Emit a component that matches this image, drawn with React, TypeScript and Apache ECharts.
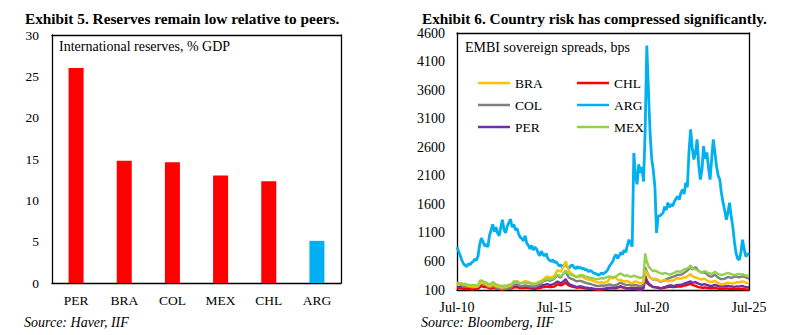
import { useEffect, useRef } from "react";
import * as echarts from "echarts";

// ---------- Exhibit 5 data ----------
const reserveCountries = ["PER", "BRA", "COL", "MEX", "CHL", "ARG"];
const reserveValues = [26.0, 14.8, 14.6, 13.0, 12.3, 5.1];

// ---------- Exhibit 6 data (monthly, Jul-2010 .. Jul-2025) ----------
const spreadYLabels = ["100", "600", "1100", "1600", "2100", "2600", "3100", "3600", "4100", "4600"];
const monthNames = ["Jan", "Feb", "Mar", "Apr", "May", "Jun", "Jul", "Aug", "Sep", "Oct", "Nov", "Dec"];

const ARG = [
  850, 780, 700, 620, 560, 530,
  510, 560, 540, 580, 600, 640, 620, 700, 900, 1010, 950, 870,
  900, 850, 1050, 1150, 1250, 1120, 1200, 1100, 1050, 1200, 1330, 1150,
  1100, 1220, 1280, 1340, 1200, 1250, 1150, 1180, 1080, 1020, 1000, 960,
  1050, 920, 880, 820, 880, 800, 850, 820, 750, 700, 780, 720,
  700, 740, 650, 620, 600, 630, 580, 600, 560, 520, 540, 500,
  530, 560, 500, 480, 520, 540, 500, 470, 510, 480, 500, 470,
  480, 450, 460, 420, 440, 430, 400, 390, 380, 360, 370, 400,
  380, 400, 420, 460, 520, 560, 600, 680, 720, 650, 700, 760,
  720, 800, 760, 880, 980, 920, 860, 2500, 2100, 1950, 2300, 2150,
  2250, 2000, 2900, 4380, 3600, 2860, 2400, 2200, 1900, 1100, 1390, 1400,
  1420, 1450, 1560, 1500, 1630, 1550, 1600, 1570, 1650, 1700, 1740, 1680,
  1800, 1860, 1780, 1980, 1900, 2510, 2913, 2600, 2385, 2500, 2737, 2300,
  2034, 2200, 2620, 2400, 2510, 2250, 2034, 2400, 2737, 2500, 2268, 2100,
  2034, 1800, 1630, 1500, 1330, 1450, 1630, 1400, 1213, 950, 745, 650,
  627, 750, 980, 820, 686, 720, 745,
];

const BRA = [
  200, 190, 210, 200, 190, 190,
  180, 175, 170, 165, 160, 165, 160, 170, 210, 230, 220, 215,
  200, 180, 170, 175, 200, 190, 170, 160, 150, 145, 140, 145,
  150, 160, 170, 180, 200, 250, 240, 260, 230, 220, 230, 240,
  260, 250, 240, 230, 220, 210, 210, 220, 240, 250, 260, 280,
  300, 330, 340, 310, 320, 330, 350, 400, 450, 430, 420, 480,
  520, 600, 520, 430, 400, 380, 360, 330, 320, 330, 330, 340,
  320, 300, 290, 280, 280, 270, 260, 250, 240, 230, 230, 240,
  220, 230, 240, 250, 300, 330, 300, 330, 310, 280, 270, 280,
  260, 250, 250, 260, 240, 220, 220, 240, 250, 240, 230, 220,
  220, 250, 450, 400, 350, 320, 300, 290, 300, 290, 280, 260,
  260, 270, 280, 260, 250, 260, 270, 260, 280, 300, 310, 300,
  300, 310, 320, 320, 340, 360, 380, 340, 330, 320, 310, 300,
  290, 280, 300, 290, 270, 250, 240, 240, 250, 260, 240, 220,
  210, 200, 200, 210, 220, 230, 220, 220, 210, 220, 230, 240,
  230, 240, 250, 240, 230, 220, 210,
];

const MEX = [
  230, 220, 210, 220, 200, 210,
  200, 190, 190, 185, 180, 185, 180, 190, 260, 270, 250, 240,
  230, 210, 200, 210, 240, 220, 200, 190, 180, 175, 170, 175,
  180, 180, 190, 200, 210, 250, 240, 250, 230, 220, 220, 220,
  230, 225, 220, 215, 210, 210, 200, 210, 220, 230, 240, 260,
  280, 290, 300, 280, 290, 300, 310, 340, 370, 350, 340, 370,
  400, 440, 400, 380, 370, 360, 350, 340, 330, 350, 360, 360,
  350, 340, 330, 320, 310, 310, 300, 300, 290, 290, 300, 310,
  300, 310, 320, 330, 340, 330, 320, 330, 340, 360, 380, 390,
  370, 350, 350, 360, 340, 330, 340, 350, 340, 330, 320, 310,
  320, 340, 740, 600, 520, 480, 450, 430, 440, 430, 410, 400,
  390, 380, 400, 390, 380, 370, 380, 390, 400, 420, 430, 420,
  420, 440, 460, 470, 480, 500, 530, 480, 470, 460, 450, 430,
  420, 410, 420, 430, 410, 400, 390, 380, 400, 420, 400, 380,
  370, 360, 370, 380, 390, 400, 390, 380, 370, 360, 370, 380,
  380, 370, 380, 360, 350, 350, 360,
];

const COL = [
  200, 190, 190, 180, 170, 170,
  165, 160, 160, 150, 150, 155, 150, 160, 200, 210, 200, 190,
  180, 160, 150, 150, 170, 160, 140, 130, 120, 120, 115, 120,
  120, 125, 130, 140, 160, 200, 190, 200, 180, 170, 170, 170,
  180, 175, 170, 165, 160, 160, 160, 170, 180, 200, 220, 250,
  260, 270, 280, 260, 270, 280, 300, 330, 360, 330, 320, 360,
  400, 430, 360, 320, 300, 290, 280, 260, 250, 260, 260, 250,
  240, 230, 220, 210, 210, 200, 190, 180, 170, 170, 170, 180,
  170, 180, 180, 190, 200, 190, 180, 180, 190, 200, 220, 230,
  210, 200, 190, 190, 190, 180, 180, 190, 190, 180, 170, 170,
  170, 200, 500, 420, 360, 320, 300, 280, 290, 280, 270, 250,
  250, 260, 270, 290, 300, 310, 320, 330, 340, 350, 370, 360,
  370, 380, 400, 420, 440, 470, 520, 460, 480, 500, 470, 430,
  420, 400, 410, 400, 380, 350, 340, 330, 350, 370, 340, 320,
  300, 290, 290, 300, 310, 330, 320, 310, 320, 330, 340, 330,
  320, 330, 340, 330, 320, 310, 300,
];

const PER = [
  180, 170, 170, 160, 160, 160,
  160, 165, 170, 175, 180, 175, 165, 170, 210, 230, 210, 200,
  190, 170, 160, 160, 175, 165, 150, 140, 130, 125, 120, 125,
  130, 135, 140, 150, 160, 190, 180, 190, 170, 160, 160, 160,
  165, 160, 155, 150, 145, 145, 145, 150, 155, 160, 170, 190,
  190, 200, 200, 190, 190, 200, 210, 230, 250, 230, 220, 240,
  260, 290, 240, 210, 190, 180, 170, 160, 150, 160, 160, 160,
  150, 140, 140, 135, 130, 130, 125, 120, 115, 115, 115, 120,
  120, 125, 130, 135, 140, 140, 140, 145, 140, 150, 160, 165,
  150, 140, 130, 130, 130, 125, 120, 115, 115, 110, 110, 110,
  110, 130, 350, 270, 220, 190, 170, 150, 150, 140, 140, 130,
  130, 140, 150, 160, 170, 180, 180, 170, 170, 180, 190, 190,
  190, 200, 210, 220, 230, 240, 250, 230, 230, 240, 220, 210,
  200, 190, 200, 200, 190, 180, 170, 170, 180, 190, 180, 170,
  160, 160, 160, 165, 170, 170, 165, 160, 160, 155, 160, 160,
  160, 165, 170, 160, 155, 150, 150,
];

const CHL = [
  140, 130, 130, 125, 120, 120,
  115, 115, 115, 110, 110, 115, 115, 120, 150, 170, 160, 150,
  150, 140, 130, 125, 140, 135, 125, 120, 115, 110, 110, 115,
  115, 120, 120, 125, 130, 150, 145, 150, 140, 135, 135, 135,
  140, 140, 135, 130, 125, 120, 120, 125, 130, 135, 140, 150,
  150, 155, 160, 150, 150, 155, 160, 180, 200, 190, 180, 190,
  210, 230, 200, 180, 170, 160, 150, 145, 140, 145, 145, 140,
  135, 130, 125, 120, 120, 115, 115, 110, 110, 105, 105, 110,
  110, 115, 120, 125, 130, 130, 130, 135, 130, 140, 150, 155,
  145, 140, 135, 130, 130, 130, 130, 140, 135, 135, 130, 130,
  130, 150, 280, 230, 200, 180, 170, 150, 150, 145, 140, 135,
  130, 135, 140, 145, 150, 155, 155, 150, 150, 155, 160, 160,
  160, 170, 180, 180, 190, 200, 210, 190, 180, 175, 160, 150,
  145, 140, 140, 145, 140, 135, 130, 130, 135, 140, 130, 125,
  120, 120, 120, 125, 125, 125, 120, 120, 120, 115, 115, 115,
  115, 115, 120, 115, 110, 110, 110,
];

const FONT = "Liberation Serif";

function buildMonths(): string[] {
  const out: string[] = [];
  for (let i = 0; i < ARG.length; i++) {
    const m = (6 + i) % 12;
    const y = 2010 + Math.floor((6 + i) / 12);
    out.push(`${monthNames[m]}-${String(y).slice(2)}`);
  }
  return out;
}

const frameLine = { show: true, onZero: false, lineStyle: { color: "#000", width: 1.3 } };
const hidden = { show: false };

export default function App() {
  const ref = useRef<HTMLDivElement>(null);

  useEffect(() => {
    if (!ref.current) return;
    const chart = echarts.init(ref.current, undefined, { renderer: "svg" });
    const months = buildMonths();

    const lineSeries = (name: string, data: number[], color: string, width = 2.4) => ({
      name,
      type: "line",
      xAxisIndex: 1,
      yAxisIndex: 1,
      data,
      symbol: "none",
      showSymbol: false,
      lineStyle: { color, width },
      itemStyle: { color },
    });

    const legendCommon = {
      orient: "vertical",
      itemWidth: 32,
      itemHeight: 2.5,
      itemGap: 6,
      icon: "rect",
      selectedMode: false,
      textStyle: { fontFamily: FONT, fontSize: 13.5, lineHeight: 16, color: "#000" },
      top: 70,
    };

    chart.setOption({
      animation: false,
      backgroundColor: "#fff",
      grid: [
        { left: 52, top: 35, width: 289, height: 248 },
        { left: 457, top: 33, width: 292, height: 257 },
      ],
      xAxis: [
        {
          type: "category",
          gridIndex: 0,
          data: reserveCountries,
          axisLine: frameLine,
          axisTick: hidden,
          axisLabel: { fontFamily: FONT, fontSize: 13.5, color: "#000", margin: 10 },
        },
        {
          type: "category",
          gridIndex: 1,
          data: months,
          boundaryGap: false,
          axisLine: frameLine,
          axisTick: hidden,
          axisLabel: {
            fontFamily: FONT,
            fontSize: 14,
            color: "#000",
            margin: 10,
            interval: (idx: number) => idx % 60 === 0,
            showMinLabel: true,
            showMaxLabel: true,
          },
        },
        // top frame lines
        { type: "category", gridIndex: 0, position: "top", data: reserveCountries, axisLine: frameLine, axisTick: hidden, axisLabel: hidden },
        { type: "category", gridIndex: 1, position: "top", data: months, boundaryGap: false, axisLine: frameLine, axisTick: hidden, axisLabel: hidden },
      ],
      yAxis: [
        {
          type: "value",
          gridIndex: 0,
          min: 0,
          max: 30,
          interval: 5,
          position: "left",
          splitLine: hidden,
          axisLine: frameLine,
          axisTick: hidden,
          axisLabel: { fontFamily: FONT, fontSize: 13.5, color: "#000", margin: 13 },
        },
        {
          type: "value",
          gridIndex: 1,
          min: 100,
          max: 4600,
          position: "right",
          splitLine: hidden,
          axisLine: frameLine,
          axisTick: hidden,
          axisLabel: hidden,
        },
        {
          type: "category",
          gridIndex: 1,
          position: "left",
          data: spreadYLabels,
          boundaryGap: false,
          splitLine: hidden,
          axisLine: frameLine,
          axisTick: hidden,
          axisLabel: { fontFamily: FONT, fontSize: 14, color: "#000", margin: 12, interval: 0 },
        },
        // right frame line for left chart
        { type: "value", gridIndex: 0, position: "right", min: 0, max: 30, splitLine: hidden, axisLine: frameLine, axisTick: hidden, axisLabel: hidden },
      ],
      legend: [
        { ...legendCommon, left: 473, data: ["BRA", "COL", "PER"] },
        { ...legendCommon, left: 572, data: ["CHL", "ARG", "MEX"] },
      ],
      series: [
        {
          type: "bar",
          xAxisIndex: 0,
          yAxisIndex: 0,
          data: reserveValues,
          barWidth: 15,
          itemStyle: {
            color: (p: any) => (reserveCountries[p.dataIndex] === "ARG" ? "#00B0F0" : "#FF0000"),
          },
        },
        lineSeries("ARG", ARG, "#00B0F0", 2.8),
        lineSeries("CHL", CHL, "#FF0000"),
        lineSeries("PER", PER, "#7030A0"),
        lineSeries("COL", COL, "#808080"),
        lineSeries("BRA", BRA, "#FFC000"),
        lineSeries("MEX", MEX, "#92D050"),
      ],
      graphic: [
        {
          type: "text",
          x: 25,
          y: 18,
          style: {
            text: "Exhibit 5. Reserves remain low relative to peers.",
            fontFamily: FONT,
            fontWeight: "bold",
            fontSize: 15.3,
            fill: "#000",
            verticalAlign: "middle",
          },
        },
        {
          type: "text",
          x: 422,
          y: 18,
          style: {
            text: "Exhibit 6. Country risk has compressed significantly.",
            fontFamily: FONT,
            fontWeight: "bold",
            fontSize: 15.3,
            fill: "#000",
            verticalAlign: "middle",
          },
        },
        {
          type: "text",
          x: 59,
          y: 46,
          style: { text: "International reserves, % GDP", fontFamily: FONT, fontSize: 14, fill: "#000", verticalAlign: "middle" },
        },
        {
          type: "text",
          x: 465,
          y: 47.5,
          style: { text: "EMBI sovereign spreads, bps", fontFamily: FONT, fontSize: 14, fill: "#000", verticalAlign: "middle" },
        },
        {
          type: "text",
          x: 24,
          y: 322,
          style: { text: "Source: Haver, IIF", fontFamily: FONT, fontStyle: "italic", fontSize: 14, fill: "#000", verticalAlign: "middle" },
        },
        {
          type: "text",
          x: 421,
          y: 322,
          style: { text: "Source: Bloomberg, IIF", fontFamily: FONT, fontStyle: "italic", fontSize: 14, fill: "#000", verticalAlign: "middle" },
        },
      ],
    });

    return () => chart.dispose();
  }, []);

  return (
    <div
      ref={ref}
      style={{ position: "fixed", left: 0, top: 0, width: 800, height: 335, background: "#fff" }}
    />
  );
}
